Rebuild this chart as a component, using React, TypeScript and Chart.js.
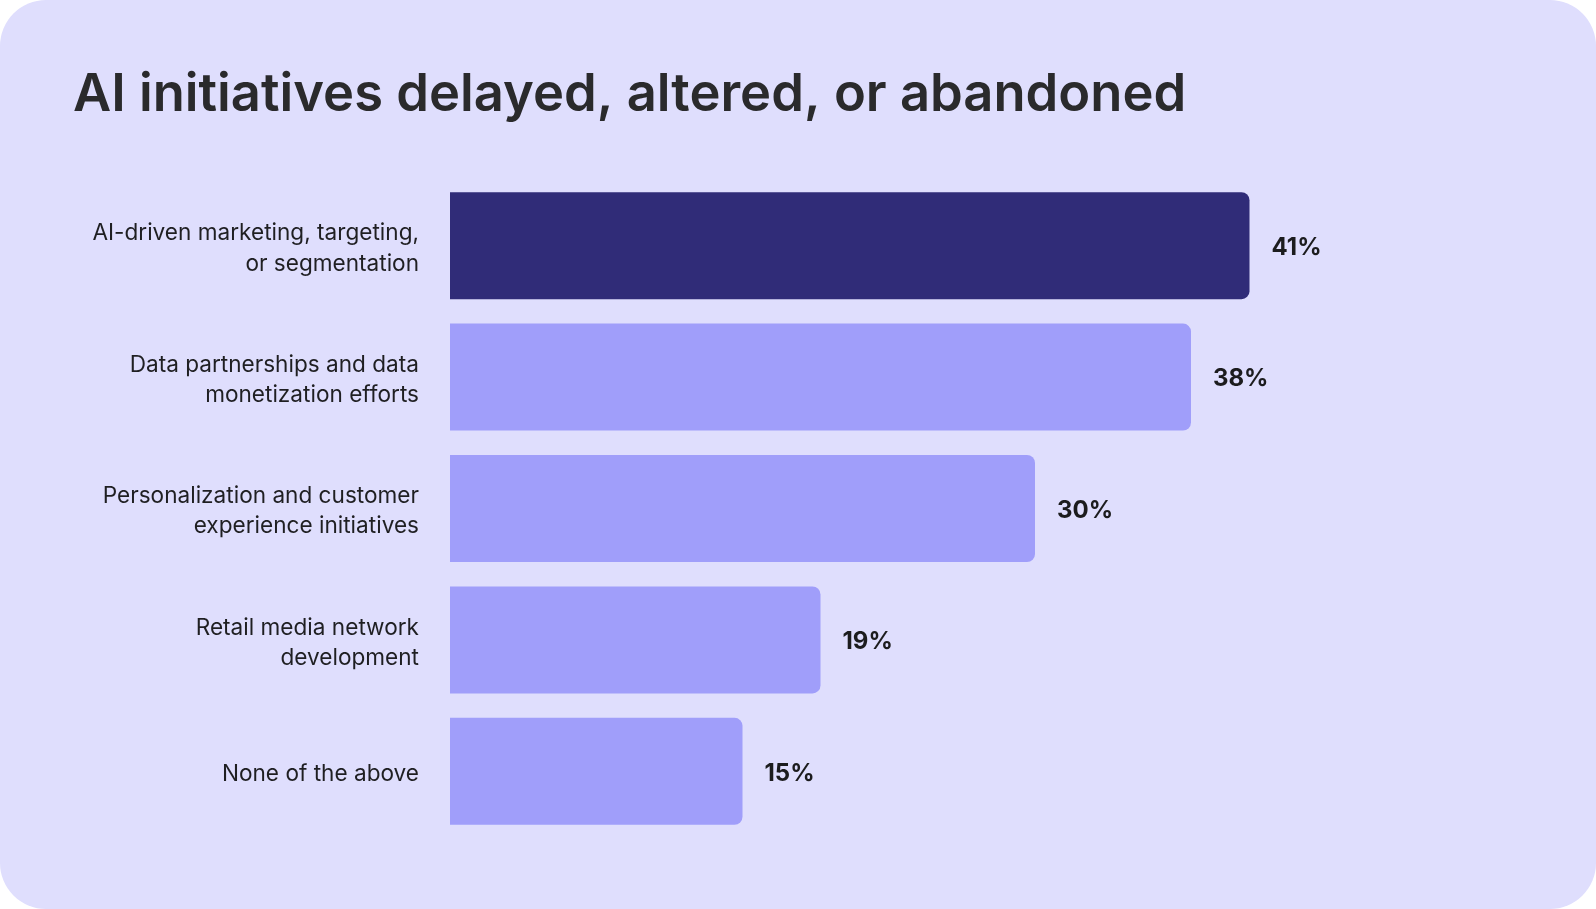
import { useEffect, useRef } from "react";
import { Chart, registerables } from "chart.js";

Chart.register(...registerables);

// Survey answers, top to bottom
const categories: string[][] = [
  ["AI-driven marketing, targeting,", "or segmentation"],
  ["Data partnerships and data", "monetization efforts"],
  ["Personalization and customer", "experience initiatives"],
  ["Retail media network", "development"],
  ["None of the above"],
];
const values: number[] = [41, 38, 30, 19, 15];
const barColors: string[] = ["#302c78", "#a09efa", "#a09efa", "#a09efa", "#a09efa"];
const titleText = "AI initiatives delayed, altered, or abandoned";
const axisMin = 0;
const axisMax = 50;

const FONT = "Inter, 'Noto Sans', sans-serif";

// Draws the "NN%" figure just past the end of each bar
const valueLabels = {
  id: "valueLabels",
  afterDatasetsDraw(chart: any) {
    const { ctx } = chart;
    const meta = chart.getDatasetMeta(0);
    ctx.save();
    ctx.font = `700 24px ${FONT}`;
    ctx.fillStyle = "#1c1c1e";
    ctx.textAlign = "left";
    ctx.textBaseline = "middle";
    meta.data.forEach((bar: any, i: number) => {
      ctx.fillText(`${values[i]}%`, bar.x + 22, bar.y + 2);
    });
    ctx.restore();
  },
};

export default function App() {
  const canvasRef = useRef<HTMLCanvasElement | null>(null);

  useEffect(() => {
    const canvas = canvasRef.current;
    if (!canvas) return;
    const chart = new Chart(canvas, {
      type: "bar",
      data: {
        labels: categories,
        datasets: [
          {
            data: values,
            backgroundColor: barColors,
            borderRadius: { topRight: 8, bottomRight: 8, topLeft: 0, bottomLeft: 0 },
            borderSkipped: false,
            categoryPercentage: 0.814,
            barPercentage: 1,
          },
        ],
      },
      options: {
        indexAxis: "y",
        responsive: false,
        animation: false,
        layout: { padding: { top: 0, left: 73, right: 171, bottom: 72 } },
        plugins: {
          legend: { display: false },
          tooltip: { enabled: false },
          title: {
            display: true,
            text: titleText,
            align: "start",
            color: "#2a2a2c",
            font: { family: FONT, size: 52.5, weight: 600, lineHeight: 1.2 },
            padding: { top: 63.5, bottom: 53.5 },
          },
        },
        scales: {
          x: {
            display: false,
            min: axisMin,
            max: axisMax,
          },
          y: {
            grid: { display: false, drawTicks: false },
            border: { display: false },
            ticks: {
              color: "#1f1f22",
              padding: 31,
              labelOffset: 3,
              font: { family: FONT, size: 22.6, weight: 400, lineHeight: 1.33 },
            },
            afterFit(scale: any) {
              scale.width = 377;
            },
          },
        },
      },
      plugins: [valueLabels],
    });
    return () => chart.destroy();
  }, []);

  return (
    <div
      style={{
        position: "fixed",
        left: 0,
        top: 0,
        width: 1596,
        height: 909,
        background: "#ffffff",
      }}
    >
      <div
        style={{
          width: 1596,
          height: 909,
          borderRadius: 46,
          background: "#dfdefd",
          overflow: "hidden",
        }}
      >
        <canvas ref={canvasRef} width={1596} height={909} style={{ display: "block" }} />
      </div>
    </div>
  );
}
